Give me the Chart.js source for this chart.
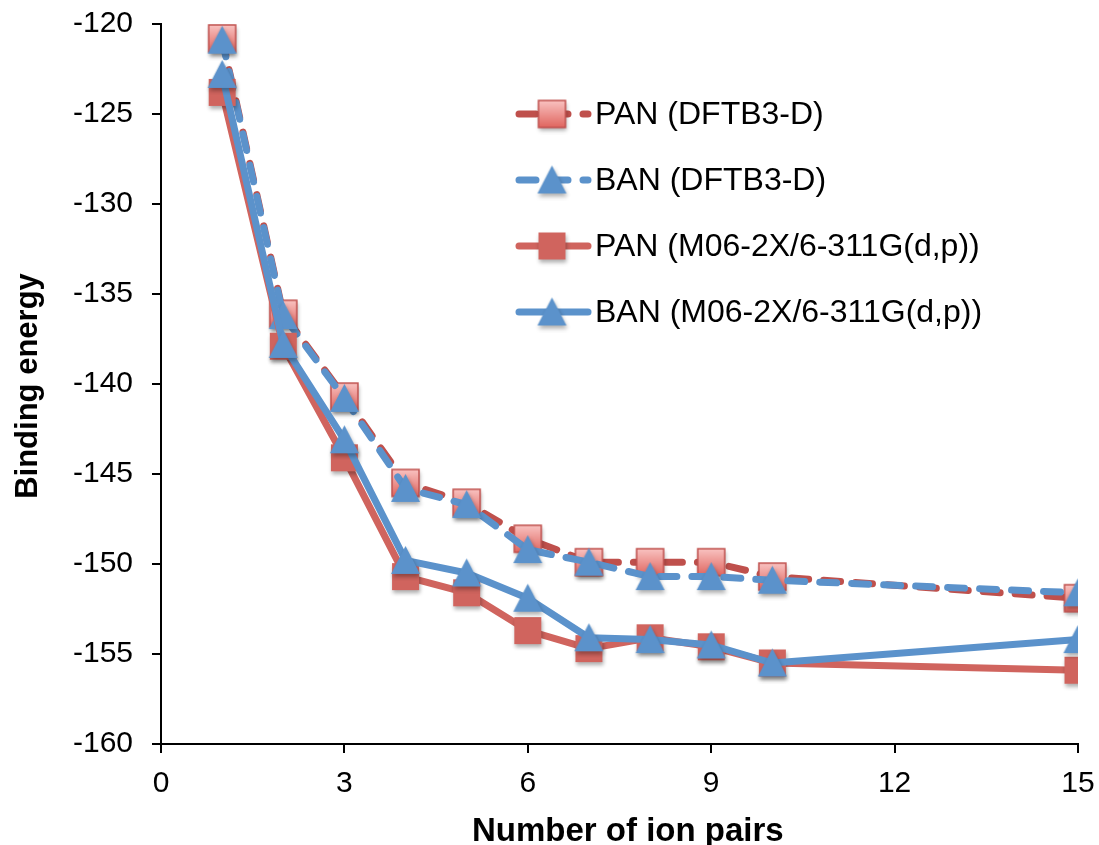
<!DOCTYPE html>
<html>
<head>
<meta charset="utf-8">
<script src="https://cdn.jsdelivr.net/npm/chart.js@4.4.1/dist/chart.umd.min.js"></script>
<style>
  html, body { margin: 0; padding: 0; background: #fff; }
  #wrap { width: 1099px; height: 845px; position: relative; }
</style>
</head>
<body>
<div id="wrap"><canvas id="c" width="1099" height="845"></canvas></div>
<script>
// ---- data ----
const ionPairs = [1, 2, 3, 4, 5, 6, 7, 8, 9, 10, 15];
const panDFTB = [-120.8, -136.1, -140.7, -145.5, -146.6, -148.6, -149.9, -149.9, -149.9, -150.7, -151.9];
const banDFTB = [-120.9, -136.2, -140.8, -145.8, -146.7, -149.2, -149.9, -150.7, -150.7, -150.9, -151.6];
const panM06  = [-123.8, -137.9, -144.1, -150.7, -151.6, -153.7, -154.7, -154.1, -154.6, -155.5, -155.9];
const banM06  = [-122.8, -137.8, -143.1, -149.8, -150.5, -151.9, -154.1, -154.2, -154.5, -155.5, -154.2];
const seriesNames = ['PAN (DFTB3-D)', 'BAN (DFTB3-D)', 'PAN (M06-2X/6-311G(d,p))', 'BAN (M06-2X/6-311G(d,p))'];
const xTicks = [0, 3, 6, 9, 12, 15];
const yTicks = [-160, -155, -150, -145, -140, -135, -130, -125, -120];
const xTitle = 'Number of ion pairs';
const yTitle = 'Binding energy';

// ---- styles ----
const RED_DASH = '#BF504C';
const RED_SOLID = '#D0645E';
const BLUE = '#5B92CB';
const FONT = '"Liberation Sans", Arial, sans-serif';
const SIZE = 27;

function markerCanvas(kind, fill, stroke) {
  const pad = 7;
  const c = document.createElement('canvas');
  c.width = c.height = SIZE + pad * 2;
  const ctx = c.getContext('2d');
  const m = c.width / 2, h = SIZE / 2;
  ctx.shadowColor = 'rgba(0,0,0,0.32)';
  ctx.shadowBlur = 4;
  ctx.shadowOffsetX = 1;
  ctx.shadowOffsetY = 3;
  ctx.beginPath();
  if (kind === 'square') {
    ctx.rect(m - h, m - h, SIZE, SIZE);
  } else {
    ctx.moveTo(m, m - h - 1);
    ctx.lineTo(m + h + 1, m + h);
    ctx.lineTo(m - h - 1, m + h);
    ctx.closePath();
  }
  if (fill === 'grad') {
    const g = ctx.createLinearGradient(0, m - h, 0, m + h);
    g.addColorStop(0, '#F9C3C1');
    g.addColorStop(1, '#E0655F');
    ctx.fillStyle = g;
  } else {
    ctx.fillStyle = fill;
  }
  ctx.fill();
  ctx.shadowColor = 'transparent';
  if (stroke) {
    ctx.lineWidth = 1.5;
    ctx.strokeStyle = stroke;
    ctx.stroke();
  }
  return c;
}

const mPanDFTB = markerCanvas('square', 'grad', '#C0504D');
const mBanDFTB = markerCanvas('triangle', BLUE, null);
const mPanM06 = markerCanvas('square', RED_SOLID, null);
const mBanM06 = markerCanvas('triangle', BLUE, null);

function pts(arr) { return ionPairs.map((x, i) => ({ x: x, y: arr[i] })); }

const seriesData = [panDFTB, banDFTB, panM06, banM06];
const seriesColors = [RED_DASH, BLUE, RED_SOLID, BLUE];
const seriesMarkers = [mPanDFTB, mBanDFTB, mPanM06, mBanM06];
const seriesDash = [[17, 15], [17, 15], [], []];

const datasets = seriesData.map((d, i) => ({
  label: seriesNames[i],
  data: pts(d),
  borderColor: seriesColors[i],
  backgroundColor: seriesColors[i],
  borderWidth: 7,
  borderDash: seriesDash[i],
  borderCapStyle: 'round',
  borderJoinStyle: 'round',
  pointStyle: seriesMarkers[i],
  pointRadius: 14,
  pointHoverRadius: 14,
  tension: 0,
  fill: false,
  order: 4 - i
}));

const legendPlugin = {
  id: 'customLegend',
  afterDraw(chart) {
    const ctx = chart.ctx;
    const rows = [114, 180, 246, 312];
    ctx.save();
    rows.forEach((y, i) => {
      ctx.beginPath();
      ctx.lineWidth = 7;
      ctx.lineCap = 'round';
      ctx.strokeStyle = seriesColors[i];
      if (seriesDash[i].length) ctx.setLineDash([17, 15]); else ctx.setLineDash([]);
      ctx.moveTo(519, y);
      ctx.lineTo(588, y);
      ctx.stroke();
      ctx.setLineDash([]);
      const mk = seriesMarkers[i];
      ctx.drawImage(mk, 552 - mk.width / 2, y - mk.height / 2);
      ctx.fillStyle = '#000';
      ctx.font = '32px ' + FONT;
      ctx.textAlign = 'left';
      ctx.textBaseline = 'middle';
      ctx.fillText(seriesNames[i], 595, y + 1);
    });
    // axis titles
    ctx.font = 'bold 33px ' + FONT;
    ctx.fillStyle = '#000';
    ctx.textAlign = 'left';
    ctx.textBaseline = 'alphabetic';
    ctx.fillText(xTitle, 472, 841);
    ctx.font = 'bold 31px ' + FONT;
    ctx.translate(37, 386);
    ctx.rotate(-Math.PI / 2);
    ctx.textAlign = 'center';
    ctx.fillText(yTitle, 0, 0);
    ctx.restore();
  }
};

function noOverflow(scale) {
  scale.paddingTop = 0;
  scale.paddingBottom = 0;
  scale.paddingLeft = 0;
  scale.paddingRight = 0;
}

new Chart(document.getElementById('c'), {
  type: 'line',
  data: { datasets: datasets },
  options: {
    responsive: false,
    animation: false,
    devicePixelRatio: 1,
    layout: { padding: { top: 24, right: 20, left: 0, bottom: 0 } },
    plugins: { legend: { display: false }, tooltip: { enabled: false }, title: { display: false } },
    scales: {
      x: {
        type: 'linear',
        min: 0, max: 15,
        afterBuildTicks(scale) { scale.ticks = xTicks.map(v => ({ value: v })); },
        afterFit(scale) { scale.height = 101; noOverflow(scale); },
        ticks: { color: '#000', font: { size: 30, family: FONT }, padding: 13, maxRotation: 0, autoSkip: false },
        grid: { drawOnChartArea: false, color: '#000', lineWidth: 2, tickLength: 9 },
        border: { color: '#000', width: 2 }
      },
      y: {
        type: 'linear',
        min: -160, max: -120,
        afterBuildTicks(scale) { scale.ticks = yTicks.map(v => ({ value: v })); },
        afterFit(scale) { scale.width = 161; noOverflow(scale); },
        ticks: { color: '#000', font: { size: 30, family: FONT }, padding: 19, autoSkip: false },
        grid: { drawOnChartArea: false, color: '#000', lineWidth: 2, tickLength: 9 },
        border: { color: '#000', width: 2 }
      }
    }
  },
  plugins: [legendPlugin]
});
</script>
</body>
</html>
